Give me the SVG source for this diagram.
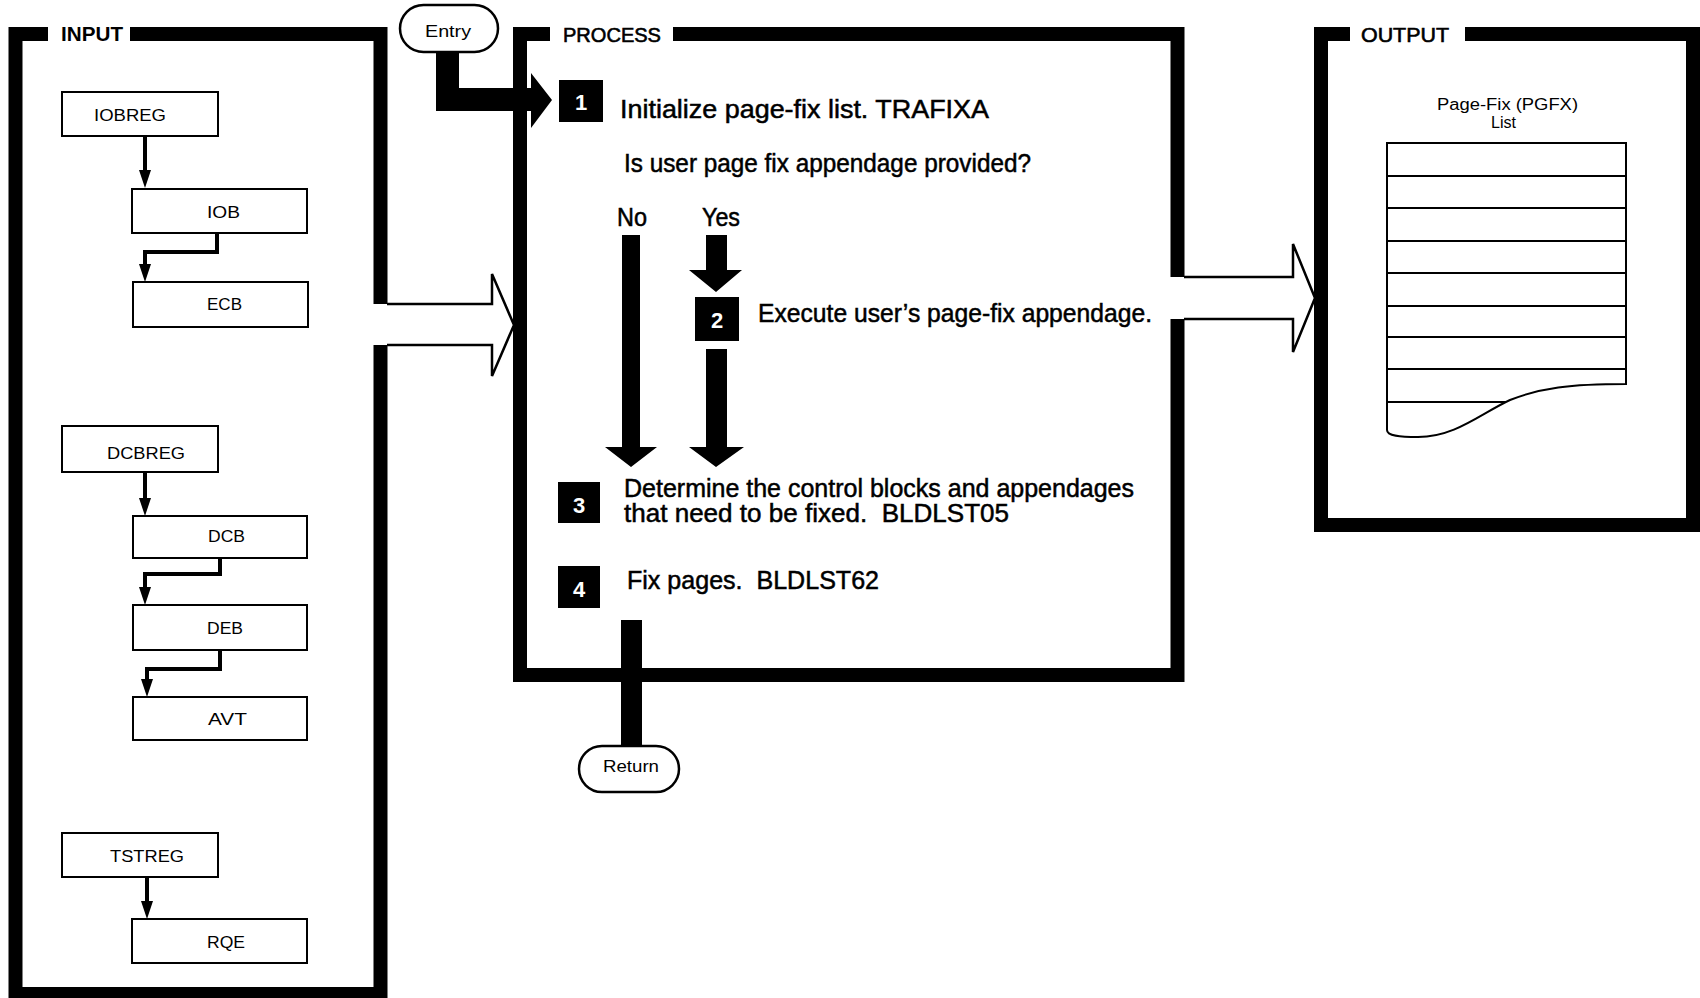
<svg xmlns="http://www.w3.org/2000/svg" width="1700" height="998" viewBox="0 0 1700 998">
<defs>
<marker id="ah" markerUnits="userSpaceOnUse" markerWidth="18" markerHeight="12" viewBox="0 0 18 12" refX="0" refY="6" orient="auto"><path d="M0,0 L18,6 L0,12 Z" fill="#000"/></marker>
</defs>
<style>
.frame{fill:none;stroke:#000;stroke-width:14;stroke-linejoin:miter}
.box{fill:#fff;stroke:#000;stroke-width:2}
.lbl{font-family:"Liberation Sans",Arial,sans-serif;font-size:17px;fill:#000}
.ttl{font-family:"Liberation Sans",Arial,sans-serif;font-size:20px;font-weight:bold;fill:#000}
.ptxt{font-family:"Liberation Sans",Arial,sans-serif;font-size:25px;fill:#000;stroke:#000;stroke-width:0.5}
.num{font-family:"Liberation Sans",Arial,sans-serif;font-size:22px;font-weight:bold;fill:#fff;text-anchor:middle}
.term{fill:#fff;stroke:#000;stroke-width:2.5}
.ttxt{font-family:"Liberation Sans",Arial,sans-serif;font-size:16px;fill:#000}
.small{font-family:"Liberation Sans",Arial,sans-serif;font-size:16px;fill:#000}
.conn{fill:none;stroke:#000;stroke-width:4;marker-end:url(#ah)}
.hollow{fill:none;stroke:#000;stroke-width:2.5;stroke-linejoin:miter}
.thick{fill:#000}
.doc{fill:#fff;stroke:#000;stroke-width:2}
.rule{stroke:#000;stroke-width:2}
</style>
<rect width="1700" height="998" fill="#fff"/>

<g id="input-frame">
<path class="frame" d="M48,34 H15.5 V994 H380.5 V345"/>
<path class="frame" d="M130,34 H380.5 V304"/>
<text class="ttl" x="61" y="41" textLength="62" lengthAdjust="spacingAndGlyphs">INPUT</text>
</g>

<g id="process-frame">
<path class="frame" d="M550,34 H520 V675 H1177.5 V319"/>
<path class="frame" d="M673,34 H1177.5 V277"/>
<text class="ttl" x="563" y="42" textLength="98" lengthAdjust="spacingAndGlyphs" style="font-weight:normal;stroke:#000;stroke-width:0.6">PROCESS</text>
</g>

<g id="output-frame">
<path class="frame" d="M1350,34 H1321 V525 H1693 V34 H1465"/>
<text class="ttl" x="1361" y="42" textLength="88" lengthAdjust="spacingAndGlyphs" style="font-weight:normal;stroke:#000;stroke-width:0.6">OUTPUT</text>
</g>

<g id="connectors">
<path class="conn" d="M145,136 V170"/>
<path class="conn" d="M217,233 V252 H145 V264"/>
<path class="conn" d="M145,472 V498"/>
<path class="conn" d="M220,558 V574 H145 V587"/>
<path class="conn" d="M220,650 V669 H147 V679"/>
<path class="conn" d="M147,877 V901"/>
<path class="hollow" d="M387,304 H492 V274 L514,325 L492,376 V345 H387"/>
<path class="hollow" d="M1184,277 H1293 V244 L1315,298 L1293,352 V319 H1184"/>
<path class="thick" d="M436,51 H459 V88 H531 V73 L552,100 L531,128 V111 H436 Z"/>
<path class="thick" d="M622,235 H640 V447 H657 L631,467 L605,447 H622 Z"/>
<path class="thick" d="M706,235 H727 V270 H742 L716,292 L689,270 H706 Z"/>
<path class="thick" d="M706,349 H727 V447 H744 L716,467 L689,447 H706 Z"/>
<rect class="thick" x="621" y="620" width="21" height="126"/>
</g>

<g id="iobreg"><rect class="box" x="62" y="92" width="156" height="44"/><text class="lbl" x="94" y="121" textLength="72" lengthAdjust="spacingAndGlyphs">IOBREG</text></g>
<g id="iob"><rect class="box" x="132" y="189" width="175" height="44"/><text class="lbl" x="207" y="218" textLength="33" lengthAdjust="spacingAndGlyphs">IOB</text></g>
<g id="ecb"><rect class="box" x="133" y="282" width="175" height="45"/><text class="lbl" x="207" y="310" textLength="35" lengthAdjust="spacingAndGlyphs">ECB</text></g>
<g id="dcbreg"><rect class="box" x="62" y="426" width="156" height="46"/><text class="lbl" x="107" y="459" textLength="78" lengthAdjust="spacingAndGlyphs">DCBREG</text></g>
<g id="dcb"><rect class="box" x="133" y="516" width="174" height="42"/><text class="lbl" x="208" y="542" textLength="37" lengthAdjust="spacingAndGlyphs">DCB</text></g>
<g id="deb"><rect class="box" x="133" y="605" width="174" height="45"/><text class="lbl" x="207" y="634" textLength="36" lengthAdjust="spacingAndGlyphs">DEB</text></g>
<g id="avt"><rect class="box" x="133" y="697" width="174" height="43"/><text class="lbl" x="208" y="725" textLength="39" lengthAdjust="spacingAndGlyphs">AVT</text></g>
<g id="tstreg"><rect class="box" x="62" y="833" width="156" height="44"/><text class="lbl" x="110" y="862" textLength="74" lengthAdjust="spacingAndGlyphs">TSTREG</text></g>
<g id="rqe"><rect class="box" x="132" y="919" width="175" height="44"/><text class="lbl" x="207" y="948" textLength="38" lengthAdjust="spacingAndGlyphs">RQE</text></g>

<g id="entry"><rect class="term" x="400" y="5" width="98" height="47" rx="23.5"/><text class="ttxt" x="425" y="37" textLength="46" lengthAdjust="spacingAndGlyphs">Entry</text></g>
<g id="return"><rect class="term" x="579" y="746" width="100" height="46" rx="23"/><text class="ttxt" x="603" y="772" textLength="56" lengthAdjust="spacingAndGlyphs">Return</text></g>

<g id="step1"><rect class="thick" x="559" y="80" width="44" height="42"/><text class="num" x="581" y="110">1</text>
<text class="ptxt" x="620" y="118" textLength="369" lengthAdjust="spacingAndGlyphs">Initialize page-fix list. TRAFIXA</text></g>
<g id="decision"><text class="ptxt" x="624" y="172" textLength="407" lengthAdjust="spacingAndGlyphs">Is user page fix appendage provided?</text>
<text class="ptxt" x="617" y="226" textLength="30" lengthAdjust="spacingAndGlyphs">No</text>
<text class="ptxt" x="702" y="226" textLength="38" lengthAdjust="spacingAndGlyphs">Yes</text></g>
<g id="step2"><rect class="thick" x="695" y="297" width="44" height="44"/><text class="num" x="717" y="328">2</text>
<text class="ptxt" x="758" y="322" textLength="394" lengthAdjust="spacingAndGlyphs">Execute user’s page-fix appendage.</text></g>
<g id="step3"><rect class="thick" x="558" y="482" width="42" height="41"/><text class="num" x="579" y="513">3</text>
<text class="ptxt" x="624" y="497" textLength="510" lengthAdjust="spacingAndGlyphs">Determine the control blocks and appendages</text>
<text class="ptxt" x="624" y="522" textLength="385" lengthAdjust="spacingAndGlyphs" xml:space="preserve">that need to be fixed.  BLDLST05</text></g>
<g id="step4"><rect class="thick" x="558" y="566" width="42" height="42"/><text class="num" x="579" y="597">4</text>
<text class="ptxt" x="627" y="589" textLength="252" lengthAdjust="spacingAndGlyphs" xml:space="preserve">Fix pages.  BLDLST62</text></g>

<g id="pgfx-list">
<text class="small" x="1437" y="110" textLength="141" lengthAdjust="spacingAndGlyphs">Page-Fix (PGFX)</text>
<text class="small" x="1491" y="128" textLength="25" lengthAdjust="spacingAndGlyphs">List</text>
<path class="doc" d="M1387,143 H1626 V384 C1570,384 1540,388 1510,400 C1480,414 1455,437 1418,437 C1400,437 1387,436 1387,430 Z"/>
<line class="rule" x1="1387" y1="176" x2="1626" y2="176"/>
<line class="rule" x1="1387" y1="208" x2="1626" y2="208"/>
<line class="rule" x1="1387" y1="241" x2="1626" y2="241"/>
<line class="rule" x1="1387" y1="273" x2="1626" y2="273"/>
<line class="rule" x1="1387" y1="306" x2="1626" y2="306"/>
<line class="rule" x1="1387" y1="337" x2="1626" y2="337"/>
<line class="rule" x1="1387" y1="369" x2="1626" y2="369"/>
<line class="rule" x1="1387" y1="402" x2="1506" y2="402"/>
</g>
</svg>
